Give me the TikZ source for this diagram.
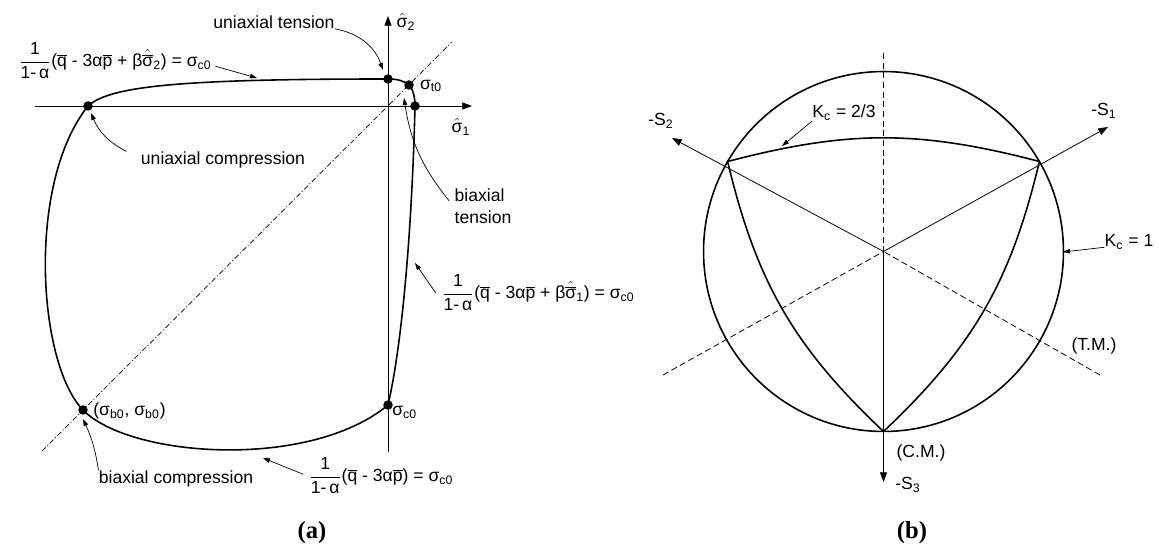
\documentclass[tikz,border=0pt]{standalone}
\usepackage{amsmath}
\usepackage{fontspec}
\setmainfont{Liberation Sans}
\newfontfamily\capfont{Liberation Serif}
\usetikzlibrary{arrows.meta}
\newcommand{\ovq}{$\overline{\mbox{q}}$}
\newcommand{\ovp}{$\overline{\mbox{p}}$}
\newcommand{\hsig}[1]{$\hat{\mbox{σ}}$\textsubscript{#1}}
\newcommand{\hbsig}[1]{$\hat{\overline{\mbox{σ}}}$\textsubscript{#1}}
\newcommand{\ofrac}{$\dfrac{\mbox{1}}{\mbox{1-\,α}}$}
\newcommand{\sigc}{σ\textsubscript{c0}}
\tikzset{
  yline/.style={line width=0.9pt,line cap=round},
  axline/.style={line width=0.45pt},
  axarrow/.style={axline,-{Triangle[length=5.5pt,width=4pt]}},
  lblarrow/.style={line width=0.4pt,-{Triangle[length=4pt,width=2.6pt]}},
  ydot/.style={circle,fill,inner sep=0pt,minimum size=0.19cm},
  lbl/.style={inner sep=0pt,font=\fontsize{10}{12.5}\selectfont},
  capt/.style={inner sep=0pt,font=\fontsize{14}{16}\capfont\bfseries},
  diagline/.style={line width=0.4pt,dash pattern=on 3pt off 1.3pt on 0.6pt off 1.3pt},
  meridian/.style={line width=0.45pt,dash pattern=on 3.5pt off 2pt}
}

\begin{document}
\begin{tikzpicture}[x=0.02cm,y=-0.02cm,
    declare function={kcr(\a,\m,\e)=180*(1+\e/2)/(1+\e*cos(\a-\m));}]
  \useasboundingbox (0,0) rectangle (1159,546);

  % (a)
  \coordinate (h0) at (35,106);   \coordinate (h1) at (472,106);
  \coordinate (v0) at (388,452);  \coordinate (v1) at (388,16);
  \coordinate (d0) at (42,451);   \coordinate (d1) at (452,42);
  \draw[axarrow] (h0) -- (h1);
  \draw[axarrow] (v0) -- (v1);
  \draw[diagline] (d0) -- (d1);

  \node[ydot] (ucomp) at (88,106) {};
  \node[ydot] (ut2) at (388,79) {};
  \node[ydot] (st0) at (409,85) {};
  \node[ydot] (ut1) at (415,106) {};
  \node[ydot] (sc0) at (388,405) {};
  \node[ydot] (sb0) at (83,410) {};
  \draw[yline] (ucomp.center) .. controls (110,86) and (180,79) .. (ut2.center)
    .. controls (398,79) and (404,81) .. (st0.center)
    .. controls (413,89) and (415,97) .. (ut1.center)
    .. controls (412,230) and (402,345) .. (sc0.center)
    .. controls (310,470) and (130,458) .. (sb0.center)
    .. controls (38,364) and (26,184) .. (ucomp.center);

  \node[lbl] (s2) at (406,22) {\hsig{2}};
  \node[lbl] (s1) at (461,127) {\hsig{1}};
  \node[lbl] (st) at (431,86) {σ\textsubscript{t0}};
  \node[lbl] (ut) at (274,22) {uniaxial tension};
  \node[lbl] (uc) at (223,160) {uniaxial compression};
  \node[lbl,align=left] (bt) at (483,206) {biaxial\\tension};
  \node[lbl,anchor=west] (sb) at (93,411) {(σ\textsubscript{b0}, σ\textsubscript{b0})};
  \node[lbl,anchor=north west] (sc) at (392,406) {\sigc};
  \node[lbl] (bc) at (176,479) {biaxial compression};
  \node[lbl] (f2) at (115,61) {\ofrac(\ovq{} - 3α\ovp{} + β\hbsig{2}) = \sigc};
  \node[lbl] (f1) at (538,293) {\ofrac(\ovq{} - 3α\ovp{} + β\hbsig{1}) = \sigc};
  \node[lbl] (f0) at (381,476) {\ofrac(\ovq{} - 3α\ovp) = \sigc};

  \coordinate (uttip) at (383,70);
  \coordinate (uctip) at (91,113);
  \coordinate (bttip) at (404,98);
  \coordinate (bctip) at (83,419);
  \coordinate (f2tip) at (257,78);
  \coordinate (f1tip) at (415,263);
  \coordinate (f0tip) at (263,458);
  \draw[lblarrow] (ut.south east) to[bend left=30] (uttip);
  \draw[lblarrow] ([xshift=-8pt]uc.north west) to[bend left=20] (uctip);
  \draw[lblarrow] ([xshift=-3pt,yshift=3pt]bt.west) to[bend left=15] (bttip);
  \draw[lblarrow] (bc.north west) to[bend right=8] (bctip);
  \draw[lblarrow] ([xshift=2pt,yshift=-3pt]f2.east) -- (f2tip);
  \draw[lblarrow] ([xshift=-3pt]f1.west) -- (f1tip);
  \draw[lblarrow] ([xshift=-3pt,yshift=1pt]f0.west) -- (f0tip);
  \node[capt] (capa) at (312,533) {(a)};

  % (b)
  \coordinate (O2) at (883.5,251.5);
  \coordinate (top) at (883.5,53);
  \coordinate (s3tip) at (883.5,482);
  \coordinate (s1tip) at (1108,127);
  \coordinate (s2tip) at (672,138);
  \coordinate (cmend) at (663,375);
  \coordinate (tmend) at (1100,375);
  \draw[yline] (O2) circle[radius=3.6cm];
  \draw[meridian] (top) -- (O2);
  \draw[meridian] (cmend) -- (O2);
  \draw[meridian] (tmend) -- (O2);
  \draw[axarrow] (O2) -- (s3tip);
  \draw[axarrow] (O2) -- (s1tip);
  \draw[axarrow] (O2) -- (s2tip);
  \foreach \m/\e in {90/2.8,210/2.4,330/2.4}{
    \pgfmathsetmacro{\ma}{\m-60}\pgfmathsetmacro{\mb}{\m+60}
    \draw[yline] plot[domain=\ma:\mb,samples=61,smooth]
      ({883.5+kcr(\x,\m,\e)*cos(\x)},{251.5-kcr(\x,\m,\e)*sin(\x)});}

  \node[lbl] (ls1) at (1104,111) {-S\textsubscript{1}};
  \node[lbl] (ls2) at (661,121) {-S\textsubscript{2}};
  \node[lbl] (ls3) at (908,485) {-S\textsubscript{3}};
  \node[lbl] (kc) at (844,113) {K\textsubscript{c} = 2/3};
  \node[lbl] (k1) at (1129,242) {K\textsubscript{c} = 1};
  \node[lbl] (tm) at (1094,346) {(T.M.)};
  \node[lbl] (cm) at (921,453) {(C.M.)};
  \coordinate (kctip) at (782,146);
  \coordinate (k1tip) at (1063,252);
  \draw[lblarrow] (kc.south west) -- (kctip);
  \draw[lblarrow] ([yshift=-3pt]k1.west) -- (k1tip);
  \node[capt] (capb) at (912,533) {(b)};
\end{tikzpicture}
\end{document}
